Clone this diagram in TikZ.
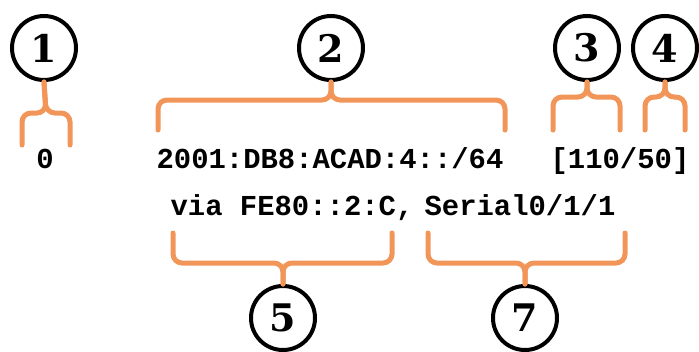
\documentclass[tikz,border=0pt]{standalone}
\usepackage{fontspec}
\setmonofont{Liberation Mono}
\newfontfamily\numfamily{DejaVu Serif}
\usepackage{tikz}
\definecolor{braceorange}{RGB}{241,150,88}
\newcommand{\codefont}{\fontsize{28.9}{30}\selectfont\ttfamily\bfseries}
\newcommand{\numfont}{\fontsize{38}{38}\selectfont\numfamily\bfseries}
\tikzstyle{num} = [circle, draw, line width=4pt, minimum size=64pt, inner sep=0pt, font=\numfont]
\tikzstyle{code} = [inner sep=0pt, anchor=base, font=\codefont]
\tikzstyle{brace} = [draw=braceorange, line width=5pt, line cap=round, rounded corners=9pt]

\begin{document}
\begin{tikzpicture}[x=1pt, y=-1pt]
    \useasboundingbox (0,0) rectangle (699,351);
    % numbered circles
    \node[num] (n1) at (44,48) {1};
    \node[num] (n2) at (331,48) {2};
    \node[num] (n3) at (587,48) {3};
    \node[num] (n4) at (665,48) {4};
    \node[num] (n5) at (283,318) {5};
    \node[num] (n7) at (525,318) {7};

    % route entry
    \node[code] (seq) at (45,168) {0};
    \node[code] (prefix) at (330,168) {2001:DB8:ACAD:4::/64};
    \node[code] (metric) at (620,168) {[110/50]};
    \node[code] (via) at (292,215) {via FE80::2:C,};
    \node[code] (iface) at (520,215) {Serial0/1/1};

    % brace ends
    \coordinate (b1l) at (22,145);  \coordinate (b1r) at (70,145);  \coordinate (b1m) at (46,113);
    \coordinate (b2l) at (158,130); \coordinate (b2r) at (505,130); \coordinate (b2m) at (331,100);
    \coordinate (b3l) at (553,130); \coordinate (b3r) at (620,130); \coordinate (b3m) at (587,97);
    \coordinate (b4l) at (645,130); \coordinate (b4r) at (685,130); \coordinate (b4m) at (665,97);
    \coordinate (b5l) at (173,233); \coordinate (b5r) at (392,233); \coordinate (b5m) at (283,263);
    \coordinate (b7l) at (428,233); \coordinate (b7r) at (625,233); \coordinate (b7m) at (525,263);

    \path[brace] (b1l) |- (b1m) -- (n1.south);
    \path[brace] (b1r) |- (b1m) -- (n1.south);
    \path[brace] (b2l) |- (b2m) -- (n2.south);
    \path[brace] (b2r) |- (b2m) -- (n2.south);
    \path[brace] (b3l) |- (b3m) -- (n3.south);
    \path[brace] (b3r) |- (b3m) -- (n3.south);
    \path[brace] (b4l) |- (b4m) -- (n4.south);
    \path[brace] (b4r) |- (b4m) -- (n4.south);
    \path[brace] (b5l) |- (b5m) -- (n5.north);
    \path[brace] (b5r) |- (b5m) -- (n5.north);
    \path[brace] (b7l) |- (b7m) -- (n7.north);
    \path[brace] (b7r) |- (b7m) -- (n7.north);
\end{tikzpicture}
\end{document}
